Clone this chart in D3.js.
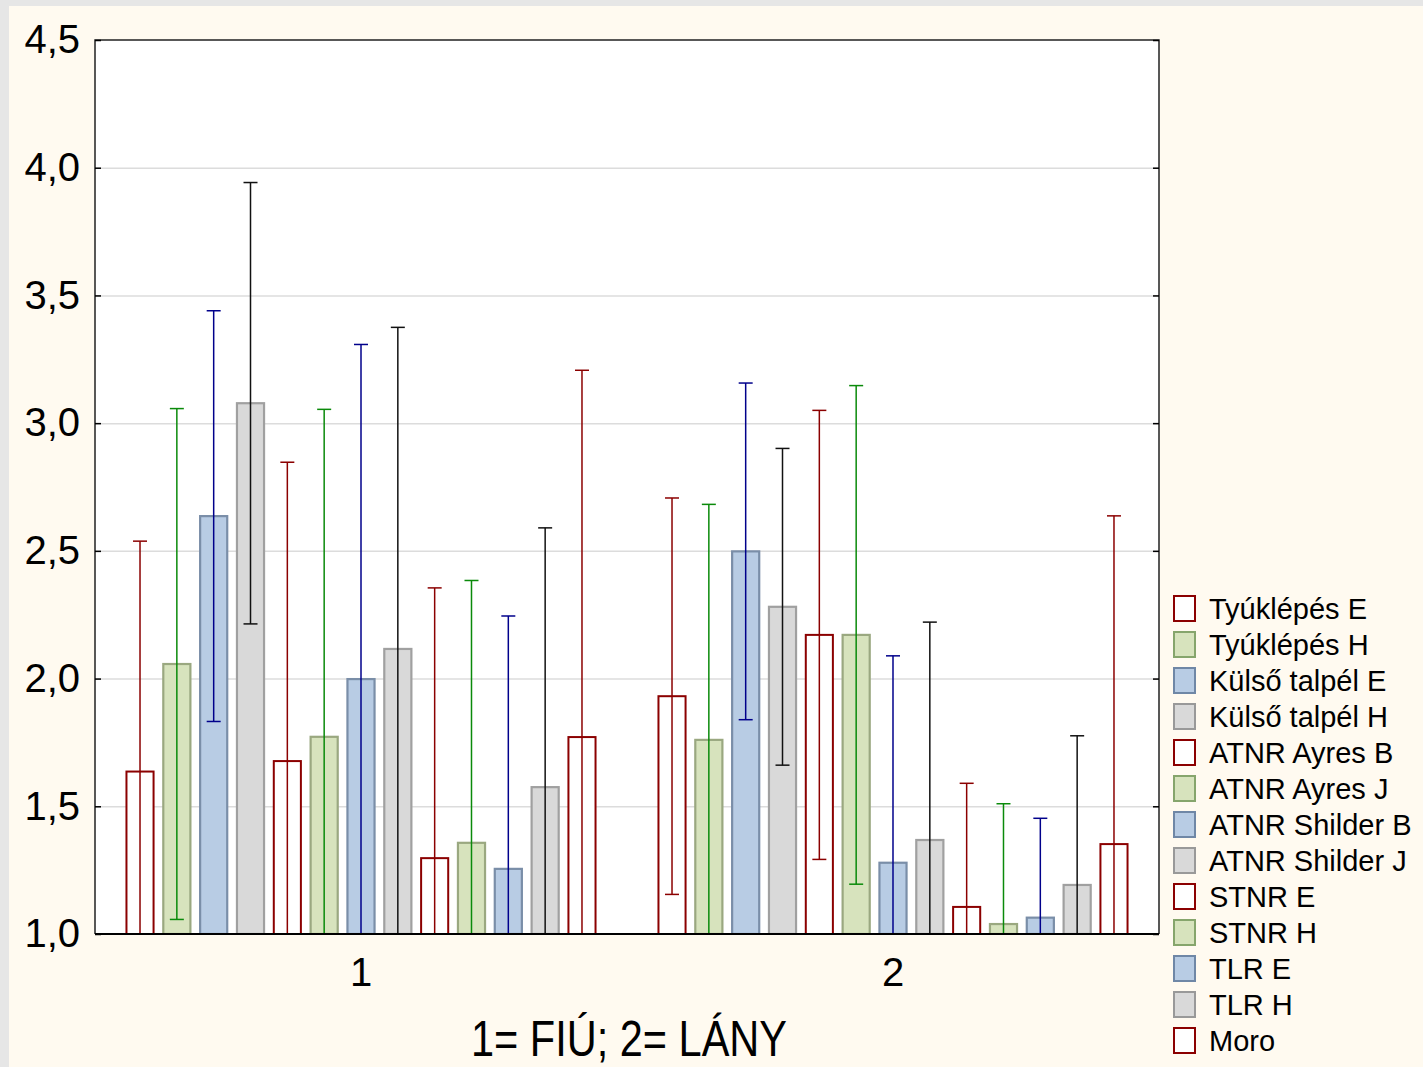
<!DOCTYPE html>
<html>
<head>
<meta charset="utf-8">
<script src="https://cdn.jsdelivr.net/npm/d3@7"></script>
<style>
  html, body { margin: 0; padding: 0; background: #e6e6e6; }
  text { font-family: Arial, "Liberation Sans", sans-serif; fill: #000; }
</style>
</head>
<body>
<div id="chart"></div>
<script>
const groups = ['1', '2']
const series = [
  'Tyúklépés E', 'Tyúklépés H', 'Külső talpél E', 'Külső talpél H',
  'ATNR Ayres B', 'ATNR Ayres J', 'ATNR Shilder B', 'ATNR Shilder J',
  'STNR E', 'STNR H', 'TLR E', 'TLR H', 'Moro'
]
// means per group (1 = FIÚ, 2 = LÁNY)
const means1 = [1.636, 2.057, 2.636, 3.078, 1.677, 1.772, 1.998, 2.116, 1.297, 1.357, 1.255, 1.575, 1.771]
const means2 = [1.931, 1.760, 2.498, 2.281, 2.171, 2.171, 1.279, 1.368, 1.106, 1.039, 1.064, 1.192, 1.352]
// error bar half widths
const err1 = [0.902, 1.000, 0.804, 0.864, 1.170, 1.282, 1.310, 1.259, 1.058, 1.027, 0.990, 1.015, 1.436]
const err2 = [0.776, 0.922, 0.659, 0.620, 0.879, 0.976, 0.810, 0.853, 0.484, 0.471, 0.389, 0.584, 1.285]
const yTicks = [1.0, 1.5, 2.0, 2.5, 3.0, 3.5, 4.0, 4.5]
const xTitle = '1= FIÚ; 2= LÁNY'

const chartWidth = 1423
const chartHeight = 1067
const plot = { left: 95, right: 1159, top: 40, bottom: 934 }

// style per series, repeats red / green / blue / gray
const styles = [
  { fill: '#ffffff', stroke: '#8b0000', err: '#8b0000', legendStroke: '#8b0000' },
  { fill: '#d7e3bd', stroke: '#9aa880', err: '#0a8a0a', legendStroke: '#86a56c' },
  { fill: '#b8cce4', stroke: '#7a8ea8', err: '#00008b', legendStroke: '#6f87a6' },
  { fill: '#d9d9d9', stroke: '#a0a0a0', err: '#111111', legendStroke: '#999999' }
]
const styleOf = i => styles[i % 4]

const data = groups.map((g, gi) => ({
  group: g,
  values: series.map((s, si) => ({
    series: s,
    index: si,
    mean: gi === 0 ? means1[si] : means2[si],
    err: gi === 0 ? err1[si] : err2[si]
  }))
}))

const svg = d3
  .select('#chart')
  .append('svg')
  .attr('width', chartWidth)
  .attr('height', chartHeight)

// background: gray edge + cream panel
svg.append('rect').attr('width', chartWidth).attr('height', chartHeight).attr('fill', '#e6e6e6')
svg.append('rect').attr('x', 9).attr('y', 6).attr('width', chartWidth - 9).attr('height', chartHeight - 6).attr('fill', '#fffaf0')
svg.append('rect')
  .attr('x', plot.left).attr('y', plot.top)
  .attr('width', plot.right - plot.left).attr('height', plot.bottom - plot.top)
  .attr('fill', '#ffffff')

// scales
const x0 = d3.scaleBand().domain(groups).range([plot.left, plot.right]).paddingInner(0.1).paddingOuter(0.05)
const x1 = d3.scaleBand().domain(series).range([0, x0.bandwidth()]).paddingInner(0.21).paddingOuter(0.105)
const y = d3.scaleLinear().domain([1, 4.5]).range([plot.bottom, plot.top])

const locale = d3.formatLocale({ decimal: ',', thousands: ' ', grouping: [3], currency: ['', ''] })
const fmt = locale.format('.1f')

// grid lines
svg.append('g')
  .attr('class', 'grid')
  .attr('transform', 'translate(' + plot.left + ',0)')
  .call(d3.axisLeft(y).tickValues(yTicks.slice(1, -1)).tickSize(-(plot.right - plot.left)).tickFormat(''))
  .call(g => g.select('.domain').remove())
  .call(g => g.selectAll('line').attr('stroke', '#dcdcdc').attr('stroke-width', 1.5))

// clip for error bars
svg.append('clipPath')
  .attr('id', 'plot-clip')
  .append('rect')
  .attr('x', plot.left).attr('y', plot.top - 2)
  .attr('width', plot.right - plot.left).attr('height', plot.bottom - plot.top + 3)

const groupSel = svg.append('g')
  .attr('clip-path', 'url(#plot-clip)')
  .selectAll('g')
  .data(data)
  .enter()
  .append('g')
  .attr('transform', d => 'translate(' + x0(d.group) + ',0)')

const barSel = groupSel.selectAll('g.bar')
  .data(d => d.values)
  .enter()
  .append('g')
  .attr('class', 'bar')

barSel.append('rect')
  .attr('x', d => x1(d.series) + 1)
  .attr('y', d => y(d.mean))
  .attr('width', x1.bandwidth() - 2)
  .attr('height', d => y(1) - y(d.mean))
  .attr('fill', d => styleOf(d.index).fill)
  .attr('stroke', d => styleOf(d.index).stroke)
  .attr('stroke-width', d => d.index % 4 === 0 ? 2 : 2.2)

const cx = d => x1(d.series) + x1.bandwidth() / 2
const capHalf = 7

barSel.append('line')
  .attr('x1', cx).attr('x2', cx)
  .attr('y1', d => y(d.mean + d.err))
  .attr('y2', d => y(d.mean - d.err))
  .attr('stroke', d => styleOf(d.index).err)
  .attr('stroke-width', 1.5)

barSel.append('line')
  .attr('x1', d => cx(d) - capHalf).attr('x2', d => cx(d) + capHalf)
  .attr('y1', d => y(d.mean + d.err)).attr('y2', d => y(d.mean + d.err))
  .attr('stroke', d => styleOf(d.index).err)
  .attr('stroke-width', 1.5)

barSel.filter(d => d.mean - d.err > 1)
  .append('line')
  .attr('x1', d => cx(d) - capHalf).attr('x2', d => cx(d) + capHalf)
  .attr('y1', d => y(d.mean - d.err)).attr('y2', d => y(d.mean - d.err))
  .attr('stroke', d => styleOf(d.index).err)
  .attr('stroke-width', 1.5)

// frame
svg.append('path')
  .attr('d', 'M' + plot.left + ',' + plot.bottom + 'V' + plot.top + 'H' + plot.right + 'V' + plot.bottom)
  .attr('fill', 'none')
  .attr('stroke', '#222')
  .attr('stroke-width', 1.5)
svg.append('line')
  .attr('x1', plot.left).attr('x2', plot.right)
  .attr('y1', plot.bottom).attr('y2', plot.bottom)
  .attr('stroke', '#000')
  .attr('stroke-width', 2)

// Y axis left, ticks inside
svg.append('g')
  .attr('class', 'y-axis')
  .attr('transform', 'translate(' + plot.left + ',0)')
  .call(d3.axisLeft(y).tickValues(yTicks).tickSize(-6).tickPadding(15).tickFormat(fmt))
  .call(g => g.select('.domain').remove())
  .call(g => g.selectAll('line').attr('stroke', '#000').attr('stroke-width', 1.5))
  .call(g => g.selectAll('text').attr('font-size', 40).attr('font-family', 'Arial, "Liberation Sans", sans-serif').attr('fill', '#000'))

// right ticks
svg.append('g')
  .attr('transform', 'translate(' + plot.right + ',0)')
  .call(d3.axisRight(y).tickValues(yTicks).tickSize(-6).tickFormat(''))
  .call(g => g.select('.domain').remove())
  .call(g => g.selectAll('line').attr('stroke', '#000').attr('stroke-width', 1.5))

// X axis labels
svg.append('g')
  .attr('class', 'x-axis')
  .attr('transform', 'translate(0,' + plot.bottom + ')')
  .call(d3.axisBottom(x0).tickSize(0).tickPadding(24))
  .call(g => g.select('.domain').remove())
  .call(g => g.selectAll('text').attr('font-size', 40).attr('font-family', 'Arial, "Liberation Sans", sans-serif').attr('fill', '#000'))

// X title
svg.append('text')
  .attr('transform', 'translate(' + ((plot.left + plot.right) / 2 + 2) + ',1056) scale(1,1.2)')
  .attr('text-anchor', 'middle')
  .attr('font-size', 41.5)
  .text(xTitle)

// Legend
const legend = svg.append('g')
  .attr('class', 'legend')
  .selectAll('g')
  .data(series)
  .enter()
  .append('g')
  .attr('transform', (d, i) => 'translate(1173,' + (595 + i * 36) + ')')

legend.append('rect')
  .attr('x', 1).attr('y', 1)
  .attr('width', 21).attr('height', 25)
  .attr('fill', (d, i) => styleOf(i).fill)
  .attr('stroke', (d, i) => styleOf(i).legendStroke)
  .attr('stroke-width', 2)

legend.append('text')
  .attr('x', 36)
  .attr('y', 24)
  .attr('font-size', 29)
  .text(d => d)
</script>
</body>
</html>
